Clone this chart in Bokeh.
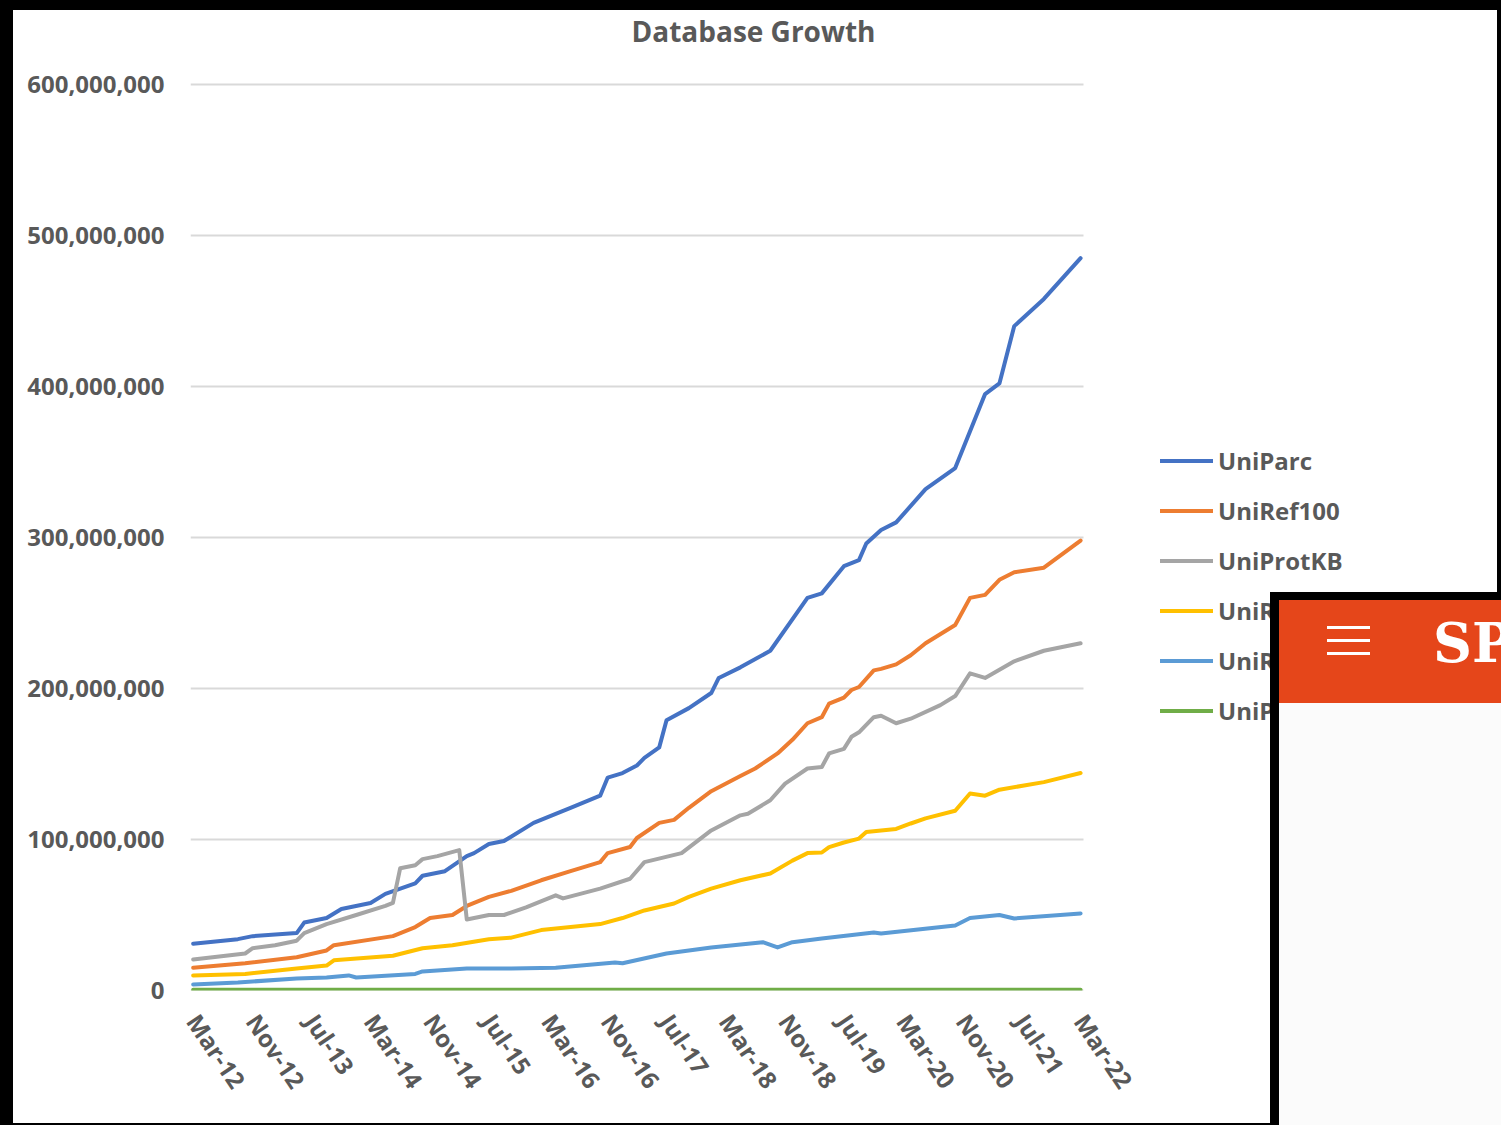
import math
from datetime import datetime
import pandas as pd
from bokeh.plotting import figure
from bokeh.layouts import column
from bokeh.models import (Legend, LegendItem, NumeralTickFormatter, FixedTicker, Label,
                          Range1d, DatetimeTickFormatter, Div)
from bokeh.embed import file_html
from bokeh.resources import INLINE

# ---------------- data (values in millions of entries) ----------------
title = "Database Growth"
tick_labels = ["Mar-12", "Nov-12", "Jul-13", "Mar-14", "Nov-14", "Jul-15", "Mar-16", "Nov-16",
               "Jul-17", "Mar-18", "Nov-18", "Jul-19", "Mar-20", "Nov-20", "Jul-21", "Mar-22"]
y_ticks = [0, 100e6, 200e6, 300e6, 400e6, 500e6, 600e6]

series_names = ["UniParc", "UniRef100", "UniProtKB", "UniRef90", "UniRef50", "UniProtKB/Swiss-Prot"]
series_colors = ["#4472C4", "#ED7D31", "#A5A5A5", "#FFC000", "#5B9BD5", "#70AD47"]

uniparc_dates = ["2012-03", "2012-09", "2012-11", "2013-05", "2013-06", "2013-09", "2013-11", "2014-03",
                 "2014-05", "2014-09", "2014-10", "2015-01", "2015-04", "2015-05", "2015-07", "2015-09",
                 "2016-01", "2016-04", "2016-06", "2016-10", "2016-11", "2017-01", "2017-03", "2017-04",
                 "2017-06", "2017-07", "2017-10", "2018-01", "2018-02", "2018-05", "2018-09", "2019-02",
                 "2019-04", "2019-07", "2019-09", "2019-10", "2019-12", "2020-02", "2020-06", "2020-10",
                 "2021-02", "2021-04", "2021-06", "2021-10", "2022-03"]
uniparc_values = [31, 34, 36, 38, 45, 48, 54, 58,
                  64, 71, 76, 79, 89, 91, 97, 99,
                  111, 117, 121, 129, 141, 144, 149, 154,
                  161, 179, 187, 197, 207, 214, 225, 260,
                  263, 281, 285, 296, 305, 310, 332, 346,
                  395, 402, 440, 458, 485]

uniref100_dates = ["2012-03", "2012-10", "2013-05", "2013-09", "2013-10", "2014-06", "2014-09", "2014-11",
                   "2015-02", "2015-04", "2015-07", "2015-10", "2016-02", "2016-06", "2016-10", "2016-11",
                   "2017-02", "2017-03", "2017-06", "2017-08", "2017-10", "2018-01", "2018-05", "2018-07",
                   "2018-10", "2018-12", "2019-02", "2019-04", "2019-05", "2019-07", "2019-08", "2019-09",
                   "2019-11", "2019-12", "2020-02", "2020-04", "2020-06", "2020-10", "2020-12", "2021-02",
                   "2021-04", "2021-06", "2021-10", "2022-03"]
uniref100_values = [15, 18, 22, 26.5, 30, 36, 42, 48,
                    50, 56, 62, 66, 73, 79, 85, 91,
                    95, 101, 111, 113, 121, 132, 142, 147,
                    157, 166, 177, 181, 190, 194, 199, 201,
                    212, 213, 216, 222, 230, 242, 260, 262,
                    272, 277, 280, 298]

uniprotkb_dates = ["2012-03", "2012-10", "2012-11", "2013-02", "2013-05", "2013-06", "2013-09", "2014-01",
                   "2014-05", "2014-06", "2014-07", "2014-09", "2014-10", "2014-12", "2015-03", "2015-04",
                   "2015-07", "2015-09", "2015-12", "2016-04", "2016-05", "2016-10", "2017-02", "2017-04",
                   "2017-09", "2018-01", "2018-05", "2018-06", "2018-09", "2018-11", "2019-02", "2019-04",
                   "2019-05", "2019-07", "2019-08", "2019-09", "2019-11", "2019-12", "2020-02", "2020-04",
                   "2020-08", "2020-10", "2020-12", "2021-02", "2021-06", "2021-10", "2022-03"]
uniprotkb_values = [20.5, 24.5, 28, 30, 33, 38, 44, 50,
                    56, 58, 81, 83, 87, 89, 93, 47,
                    50, 50, 55, 63, 61, 67.5, 74, 85,
                    91, 106, 116, 117, 126, 137, 147, 148,
                    157, 160, 168, 171, 181, 182, 177, 180,
                    189, 195, 210, 207, 218, 225, 230]

uniref90_dates = ["2012-03", "2012-10", "2013-05", "2013-09", "2013-10", "2014-06", "2014-10", "2015-02",
                  "2015-07", "2015-10", "2016-02", "2016-10", "2017-01", "2017-04", "2017-08", "2017-10",
                  "2018-01", "2018-05", "2018-09", "2018-12", "2019-02", "2019-04", "2019-05", "2019-07",
                  "2019-09", "2019-10", "2019-12", "2020-02", "2020-04", "2020-06", "2020-10", "2020-12",
                  "2021-02", "2021-04", "2021-10", "2022-03"]
uniref90_values = [10, 11, 14.5, 16.5, 20, 23, 28, 30,
                   34, 35, 40, 44, 48, 53, 57.6, 62,
                   67.5, 73, 77.5, 86, 91, 91.4, 95, 98,
                   100.6, 105, 106, 107, 110.6, 114, 119, 130.5,
                   129, 133, 138, 144]

uniref50_dates = ["2012-03", "2012-09", "2013-05", "2013-09", "2013-12", "2014-01", "2014-09", "2014-10",
                  "2015-04", "2015-10", "2016-04", "2016-12", "2017-01", "2017-07", "2018-01", "2018-08",
                  "2018-10", "2018-12", "2019-04", "2019-11", "2019-12", "2020-10", "2020-12", "2021-04",
                  "2021-06", "2022-03"]
uniref50_values = [4, 5.3, 8, 8.6, 10, 8.6, 11, 12.6,
                   14.5, 14.5, 15, 18.5, 18, 24.5, 28.5, 32,
                   28.5, 32, 34.4, 38.4, 37.7, 43, 48, 50,
                   47.7, 51]

swissprot_dates = ["2012-03", "2014-03", "2016-03", "2018-03", "2020-03", "2022-03"]
swissprot_values = [0.54, 0.55, 0.55, 0.56, 0.56, 0.57]

all_dates = [uniparc_dates, uniref100_dates, uniprotkb_dates, uniref90_dates, uniref50_dates, swissprot_dates]
all_values = [uniparc_values, uniref100_values, uniprotkb_values, uniref90_values, uniref50_values, swissprot_values]

# ---------------- layout geometry (page pixels) ----------------
TXT = "#595959"
FONT = "Open Sans"
PAGE_W, PAGE_H = 1501, 1125
PAD_T, PAD_R, PAD_B, PAD_L = 10, 4, 2, 13          # black screenshot frame
PLOT_L, PLOT_R, PLOT_T, PLOT_B = 190, 1083, 84, 990  # Excel plot area
FRAME_R, FRAME_T = PAGE_W - PAD_R, PAD_T            # bokeh frame reaches the right/top edges

x_start = datetime(2012, 2, 19)
x_plot_end = datetime(2022, 3, 13)
x_end = x_start + (x_plot_end - x_start) * ((FRAME_R - PLOT_L) / (PLOT_R - PLOT_L))
y_max = y_ticks[-1]
y_end = y_max * (PLOT_B - FRAME_T) / (PLOT_B - PLOT_T)

p = figure(width=PAGE_W - PAD_L - PAD_R, height=PAGE_H - PAD_T - PAD_B, x_axis_type="datetime",
           output_backend="svg", toolbar_location=None, title=None,
           x_range=Range1d(x_start, x_end), y_range=Range1d(0, y_end),
           min_border_left=PLOT_L - PAD_L, min_border_right=0, min_border_top=0,
           min_border_bottom=PAGE_H - PAD_B - PLOT_B,
           margin=(PAD_T, PAD_R, PAD_B, PAD_L),
           styles={"background-color": "#ffffff"})
p.background_fill_color = "white"
p.border_fill_color = "white"
p.outline_line_color = None
p.xgrid.visible = False
p.ygrid.visible = False

# horizontal gridlines limited to the Excel plot area
p.segment(x0=[x_start] * len(y_ticks), x1=[x_plot_end] * len(y_ticks), y0=y_ticks, y1=y_ticks,
          line_color="#D9D9D9", line_width=2)

renderers = []
for dates, vals, color in zip(all_dates, all_values, series_colors):
    xs = pd.to_datetime(dates, format="%Y-%m")
    ys = [v * 1e6 for v in vals]
    r = p.line(xs, ys, line_color=color, line_width=4, line_join="round", line_cap="round")
    renderers.append(r)

# axes
tick_ts = pd.to_datetime(tick_labels, format="%b-%y")
p.xaxis.ticker = FixedTicker(ticks=[t.timestamp() * 1000 for t in tick_ts])
p.xaxis.formatter = DatetimeTickFormatter(days="%b-%y", months="%b-%y", years="%b-%y")
p.xaxis.major_label_orientation = -math.radians(56)
p.yaxis.ticker = FixedTicker(ticks=y_ticks)
p.yaxis.formatter = NumeralTickFormatter(format="0,0")
for ax in (p.xaxis, p.yaxis):
    ax.axis_line_color = None
    ax.major_tick_line_color = None
    ax.minor_tick_line_color = None
    ax.major_label_text_font = FONT
    ax.major_label_text_font_style = "bold"
    ax.major_label_text_font_size = "24px"
    ax.major_label_text_color = TXT
p.yaxis.major_label_standoff = 20
p.xaxis.major_label_standoff = 20

# title
p.add_layout(Label(x=753 - PLOT_L, y=PLOT_B - 30, x_units="screen", y_units="screen", text=title,
                   text_align="center", text_baseline="middle", text_font=FONT,
                   text_font_style="bold", text_font_size="28px", text_color=TXT))

legend = Legend(items=[LegendItem(label=n, renderers=[r]) for n, r in zip(series_names, renderers)],
                location=(1160 - PLOT_L, PLOT_B - 727), glyph_width=53, glyph_height=33,
                label_height=33, spacing=17, padding=0, margin=0, label_standoff=5,
                border_line_color=None, background_fill_alpha=0,
                label_text_font=FONT, label_text_font_style="bold",
                label_text_font_size="24px", label_text_color=TXT)
p.add_layout(legend)

# phone banner overlapping the lower right corner of the screenshot
banner_html = (
    '<div style="position:relative;width:231px;height:533px;background:#000;overflow:hidden">'
    '<div style="position:absolute;left:9px;top:8px;width:222px;height:103px;background:#E5461A"></div>'
    '<div style="position:absolute;left:9px;top:111px;width:222px;height:422px;background:#FBFBFB"></div>'
    '<div style="position:absolute;left:57px;top:34px;width:43px;height:3px;background:#fff"></div>'
    '<div style="position:absolute;left:57px;top:47px;width:43px;height:3px;background:#fff"></div>'
    '<div style="position:absolute;left:57px;top:60px;width:43px;height:3px;background:#fff"></div>'
    '<div style="position:absolute;left:163px;top:24px;color:#fff;font-family:\'DejaVu Serif\';'
    'font-weight:bold;font-size:54px;line-height:1;white-space:nowrap">SPE</div>'
    '</div>'
)
banner = Div(text=banner_html, width=231, height=533, margin=0,
             styles={"position": "absolute", "left": "1270px", "top": "592px", "z-index": "10"})

root = column(p, banner, styles={"background-color": "#000000", "position": "relative"}, margin=0)

open("out.html", "w").write(file_html(root, INLINE))
